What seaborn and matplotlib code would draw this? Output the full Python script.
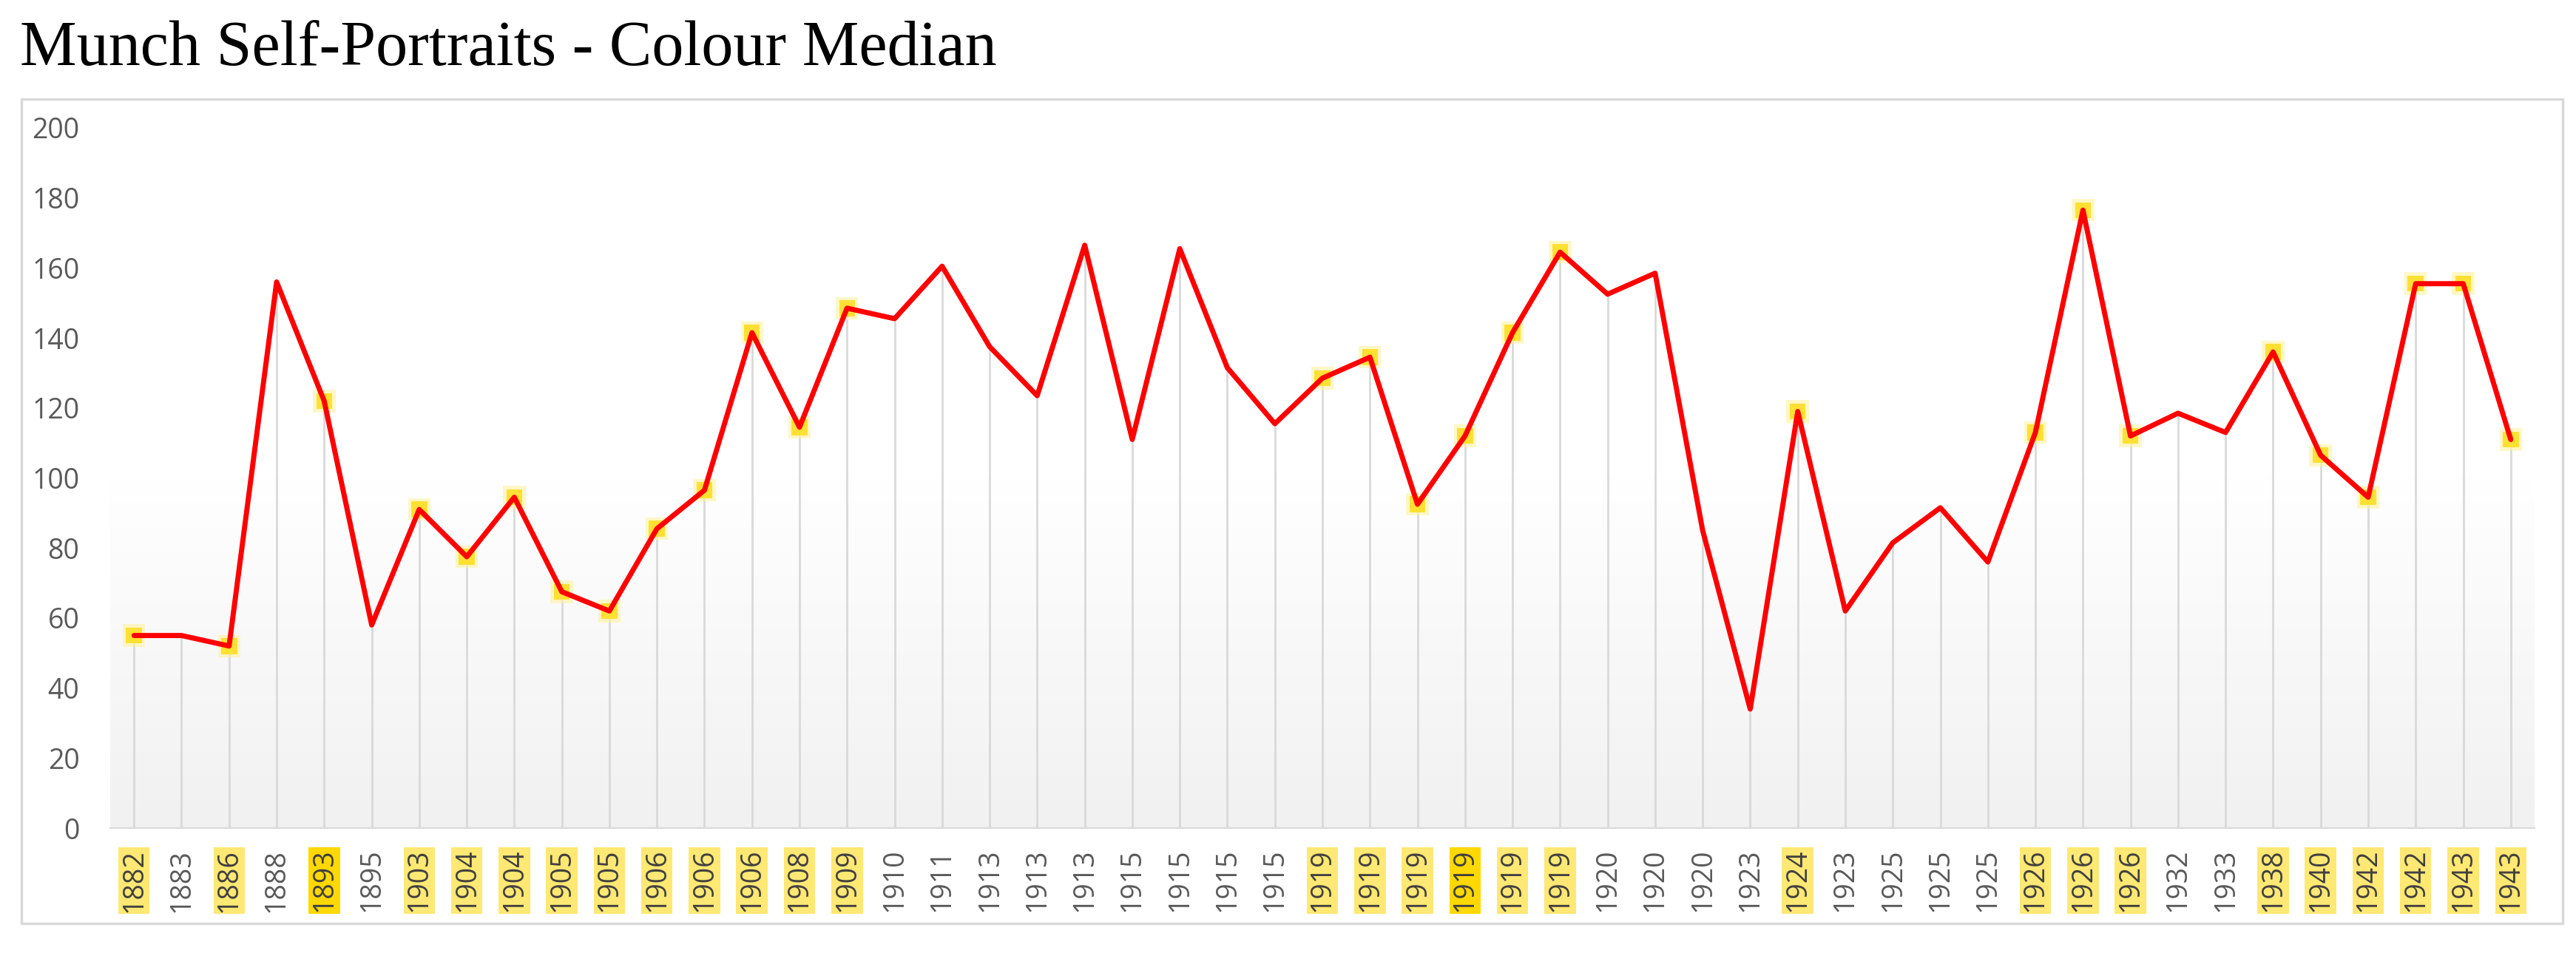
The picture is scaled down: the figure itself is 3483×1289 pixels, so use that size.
import numpy as np
import pandas as pd
import matplotlib
matplotlib.use("Agg")
import matplotlib.pyplot as plt
from matplotlib.colors import LinearSegmentedColormap
from matplotlib.patches import Rectangle
import seaborn as sns

# painting years in the order of the chart
years = ["1882", "1883", "1886", "1888", "1893", "1895", "1903", "1904", "1904", "1905",
         "1905", "1906", "1906", "1906", "1908", "1909", "1910", "1911", "1913", "1913",
         "1913", "1915", "1915", "1915", "1915", "1919", "1919", "1919", "1919", "1919",
         "1919", "1920", "1920", "1920", "1923", "1924", "1923", "1925", "1925", "1925",
         "1926", "1926", "1926", "1932", "1933", "1938", "1940", "1942", "1942", "1943",
         "1943"]

# colour median per self-portrait
medians = [55, 55, 52, 156, 122, 58, 91, 77.5, 94.5, 67.5,
           62, 85.5, 96.5, 141.5, 114.5, 148.5, 145.5, 160.5, 137.5, 123.5,
           166.5, 111, 165.5, 131.5, 115.5, 128.5, 134.5, 92.5, 112, 141.5,
           164.5, 152.5, 158.5, 85, 34, 119, 62, 81.5, 91.5, 76,
           113, 176.5, 112, 118.5, 113, 136, 106.5, 94.5, 155.5, 155.5,
           111]

# which portraits are highlighted in yellow (2 = stronger highlight)
highlight = [1, 0, 1, 0, 2, 0, 1, 1, 1, 1,
             1, 1, 1, 1, 1, 1, 0, 0, 0, 0,
             0, 0, 0, 0, 0, 1, 1, 1, 2, 1,
             1, 0, 0, 0, 0, 1, 0, 0, 0, 0,
             1, 1, 1, 0, 0, 1, 1, 1, 1, 1,
             1]

df = pd.DataFrame({"pos": np.arange(len(years)), "year": years,
                   "median": medians, "hl": highlight})

sns.set_style("white")
plt.rcParams["font.family"] = ["Open Sans", "DejaVu Sans"]

fig = plt.figure(figsize=(34.83, 12.89), dpi=100)
ax = fig.add_axes([0.0428, 0.1311, 0.9411, 0.7347])

# background gradient of the plot area
cmap = LinearSegmentedColormap.from_list("bg", ["#ffffff", "#ffffff", "#f1f1f1"])
ax.imshow(np.linspace(0, 1, 256).reshape(-1, 1), cmap=cmap, aspect="auto",
          extent=(-0.5, len(years) - 0.5, 0, 200), zorder=0)

# drop lines
ax.vlines(df["pos"], 0, df["median"], color="#d9d9d9", lw=2, zorder=1)

# highlighted markers with a soft glow
hl = df[df["hl"] > 0]
sns.scatterplot(data=hl, x="pos", y="median", marker="s", s=480, color="#fff3a0",
                edgecolor="none", alpha=0.6, zorder=2, ax=ax, legend=False)
sns.scatterplot(data=hl, x="pos", y="median", marker="s", s=240, color="#ffe033",
                edgecolor="none", zorder=2, ax=ax, legend=False)

# the median line
sns.lineplot(data=df, x="pos", y="median", sort=False, estimator=None,
             color="#ff0000", lw=5, zorder=3, ax=ax)

ax.set_xlim(-0.5, len(years) - 0.5)
ax.set_ylim(0, 200)
ax.set_yticks(range(0, 201, 20))
ax.set_xticks(df["pos"])
ax.set_xticklabels(years, rotation=90)
ax.tick_params(axis="y", length=0, pad=30, labelsize=27, labelcolor="#595959")
ax.tick_params(axis="x", length=0, pad=20, labelsize=27, labelcolor="#595959")
ax.set_xlabel("")
ax.set_ylabel("")

for lab, h in zip(ax.get_xticklabels(), highlight):
    if h == 1:
        lab.set_bbox(dict(facecolor="#ffe873", edgecolor="none", pad=1.5))
        lab.set_color("#404040")
    elif h == 2:
        lab.set_bbox(dict(facecolor="#ffd800", edgecolor="none", pad=1.5))
        lab.set_color("#404040")

for s in ["top", "left", "right"]:
    ax.spines[s].set_visible(False)
ax.spines["bottom"].set_color("#d9d9d9")
ax.spines["bottom"].set_linewidth(1.5)

# outer chart frame
fig.patches.append(Rectangle((0.0083, 0.031), 0.9865, 0.865, transform=fig.transFigure,
                             fill=False, edgecolor="#d9d9d9", lw=2.5))

fig.text(0.0078, 0.9317, "Munch Self-Portraits - Colour Median",
         family=["Liberation Serif", "DejaVu Serif"], fontsize=62, va="baseline", color="#000000")

fig.savefig("out.png", dpi=100)
